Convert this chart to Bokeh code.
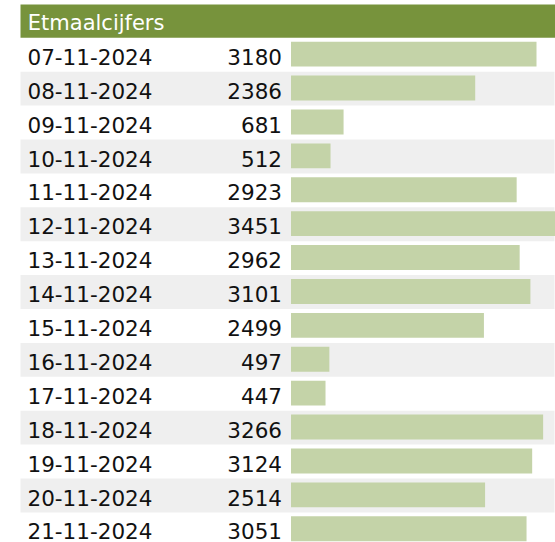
from bokeh.plotting import figure
from bokeh.models import Range1d, ColumnDataSource
from bokeh.core.properties import value
from bokeh.embed import file_html
from bokeh.resources import INLINE

title = "Etmaalcijfers"
dates = ["07-11-2024", "08-11-2024", "09-11-2024", "10-11-2024", "11-11-2024",
         "12-11-2024", "13-11-2024", "14-11-2024", "15-11-2024", "16-11-2024",
         "17-11-2024", "18-11-2024", "19-11-2024", "20-11-2024", "21-11-2024"]
counts = [3180, 2386, 681, 512, 2923, 3451, 2962, 3101, 2499, 497, 447, 3266, 3124, 2514, 3051]

FONT = "DejaVu Sans"
HEADER_GREEN = "#77933c"
BAR_GREEN = "#c4d3a8"
ROW_GRAY = "#efefef"

n = len(dates)
ys = [-i for i in range(n)]

# layout constants (value units on x, row units on y)
x0, x1 = -3763.0, 3426.1
date_x = -3413.2
num_x = -116.6
row_left, row_right = -3503.9, 3413.2
TEXT_DY = -0.061

src = ColumnDataSource(dict(
    y=ys,
    date=dates,
    count=counts,
    label=[str(c) for c in counts],
    bar_top=[y + 0.385 for y in ys],
    bar_bottom=[y - 0.35 for y in ys],
    text_y=[y + TEXT_DY for y in ys],
))

gray_ys = [y for i, y in enumerate(ys) if i % 2 == 1]

p = figure(width=555, height=542, x_range=Range1d(x0, x1), y_range=Range1d(-14.388, 1.600),
           output_backend="svg", toolbar_location=None, min_border=0)
p.axis.visible = False
p.xgrid.visible = False
p.ygrid.visible = False
p.outline_line_color = None
p.background_fill_color = "white"
p.border_fill_color = "white"

# header
p.quad(left=[row_left], right=[x1 + 100], top=[1.482], bottom=[0.5],
       fill_color=HEADER_GREEN, line_color=None)
p.text(x=[-3409.3], y=[0.942], text=[title], text_color="white",
       text_font=value(FONT), text_font_size="21px", text_baseline="alphabetic",
       text_align="left")

# alternating row backgrounds
p.quad(left=row_left, right=row_right, top=[y + 0.5 for y in gray_ys],
       bottom=[y - 0.5 for y in gray_ys], fill_color=ROW_GRAY, line_color=None)

# bars
p.quad(left=0, right="count", top="bar_top", bottom="bar_bottom", source=src,
       fill_color=BAR_GREEN, line_color=None)

# labels
p.text(x=date_x, y="text_y", text="date", source=src, text_color="#111111",
       text_font=value(FONT), text_font_size="21.5px", text_baseline="alphabetic",
       text_align="left")
p.text(x=num_x, y="text_y", text="label", source=src, text_color="#111111",
       text_font=value(FONT), text_font_size="21.5px", text_baseline="alphabetic",
       text_align="right")

open("out.html", "w").write(file_html(p, INLINE))
